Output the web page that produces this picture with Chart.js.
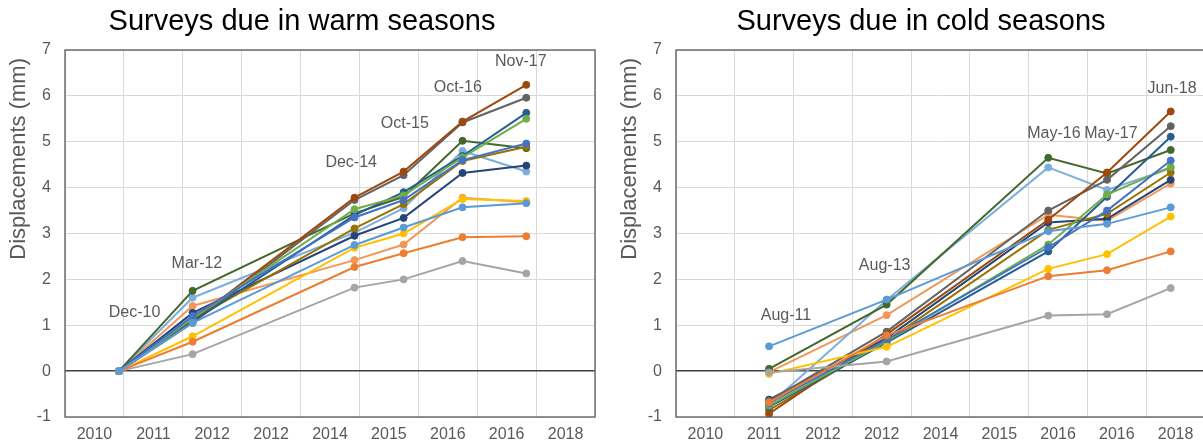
<!DOCTYPE html>
<html>
<head>
<meta charset="utf-8">
<script src="https://cdn.jsdelivr.net/npm/chart.js@4/dist/chart.umd.min.js"></script>
<style>
  html, body { margin: 0; padding: 0; background: #fff; overflow: hidden; }
  #wrap { position: relative; width: 1203px; height: 446px; overflow: hidden; }
  #warm { position: absolute; left: 0; top: 0; }
  #cold { position: absolute; left: 601px; top: 0; }
</style>
</head>
<body>
<div id="wrap">
  <canvas id="warm" width="601" height="446"></canvas>
  <canvas id="cold" width="640" height="446"></canvas>
</div>
<script>
// Survey campaigns (month-year) for each panel
const warmDates = ['Dec-10', 'Mar-12', 'Dec-14', 'Oct-15', 'Oct-16', 'Nov-17'];
const coldDates = ['Aug-11', 'Aug-13', 'May-16', 'May-17', 'Jun-18'];

// Year labels shown under the horizontal axis
const yearLabels = ['2010', '2011', '2012', '2012', '2014', '2015', '2016', '2016', '2018'];

// Series colours, one per monitoring point
const seriesColors = ['#5B9BD5', '#ED7D31', '#A5A5A5', '#FFC000', '#4472C4', '#70AD47', '#255E91',
                      '#9E480E', '#636363', '#997300', '#264478', '#43682B', '#7CAFDD', '#F1975A'];

// Displacements (mm), warm-season surveys
const warm01 = [0, 1.05, 2.75, 3.13, 3.57, 3.66];
const warm02 = [0, 0.64, 2.27, 2.57, 2.92, 2.94];
const warm03 = [0, 0.37, 1.82, 2.00, 2.40, 2.13];
const warm04 = [0, 0.76, 2.69, 3.00, 3.75, 3.71];
const warm05 = [0, 1.20, 3.35, 3.73, 4.60, 4.96];
const warm06 = [0, 1.15, 3.53, 3.83, 4.66, 5.50];
const warm07 = [0, 1.08, 3.40, 3.90, 4.69, 5.63];
const warm08 = [0, 1.10, 3.78, 4.35, 5.44, 6.24];
const warm09 = [0, 1.05, 3.73, 4.27, 5.42, 5.96];
const warm10 = [0, 1.13, 3.11, 3.64, 4.58, 4.89];
const warm11 = [0, 1.27, 2.95, 3.34, 4.32, 4.48];
const warm12 = [0, 1.75, 3.44, 3.80, 5.02, 4.86];
const warm13 = [0, 1.60, 3.02, 3.55, 4.80, 4.35];
const warm14 = [0, 1.42, 2.42, 2.76, 3.78, 3.68];

// Displacements (mm), cold-season surveys
const cold01 = [0.54, 1.56, 3.05, 3.21, 3.57];
const cold02 = [-0.68, 0.78, 2.07, 2.20, 2.61];
const cold03 = [-0.03, 0.21, 1.21, 1.24, 1.81];
const cold04 = [-0.06, 0.53, 2.23, 2.55, 3.37];
const cold05 = [-0.70, 0.68, 2.70, 3.50, 4.59];
const cold06 = [-0.75, 0.65, 2.76, 3.85, 4.45];
const cold07 = [-0.78, 0.62, 2.61, 3.80, 5.11];
const cold08 = [-0.93, 0.80, 3.30, 4.33, 5.66];
const cold09 = [-0.65, 0.86, 3.50, 4.17, 5.34];
const cold10 = [-0.85, 0.66, 3.08, 3.43, 4.33];
const cold11 = [-0.62, 0.72, 3.24, 3.32, 4.17];
const cold12 = [0.05, 1.45, 4.65, 4.31, 4.82];
const cold13 = [-0.74, 1.55, 4.44, 3.95, 4.42];
const cold14 = [-0.02, 1.22, 3.41, 3.28, 4.09];

// Campaign callouts: text with its anchor in axis units (year, mm)
const warmCalloutText = ['Dec-10', 'Mar-12', 'Dec-14', 'Oct-15', 'Oct-16', 'Nov-17'];
const warmCalloutYear = [2011.18, 2012.24, 2014.86, 2015.77, 2016.67, 2017.74];
const warmCalloutMm   = [1.27, 2.34, 4.54, 5.40, 6.18, 6.75];
const coldCalloutText = ['Aug-11', 'Aug-13', 'May-16', 'May-17', 'Jun-18'];
const coldCalloutYear = [2011.87, 2013.55, 2016.43, 2017.40, 2018.44];
const coldCalloutMm   = [1.21, 2.30, 5.18, 5.18, 6.16];

const MONTHS = ['Jan','Feb','Mar','Apr','May','Jun','Jul','Aug','Sep','Oct','Nov','Dec'];
function toYear(label) {
  const [m, yy] = label.split('-');
  return 2000 + Number(yy) + MONTHS.indexOf(m) / 12;
}

const FONT = "'Liberation Sans', Arial, sans-serif";
const TEXT_GREY = '#595959';

function buildDatasets(dates, seriesList) {
  const xs = dates.map(toYear);
  return seriesList.map((vals, i) => ({
    label: 'Point ' + (i + 1),
    data: vals.map((v, j) => ({ x: xs[j], y: v })),
    borderColor: seriesColors[i],
    backgroundColor: seriesColors[i],
    borderWidth: 2,
    pointRadius: 3.5,
    pointHoverRadius: 3.5,
    pointBorderWidth: 1,
    tension: 0
  }));
}

// Draws the frame of the plot area, the vertical axis caption and the campaign callouts
const decorations = {
  id: 'decorations',
  afterDatasetsDraw(chart, args, opts) {
    const { ctx, chartArea: a, scales } = chart;
    ctx.save();
    ctx.strokeStyle = TEXT_GREY;
    ctx.lineWidth = 1.3;
    ctx.strokeRect(a.left, a.top, a.right - a.left, a.bottom - a.top);

    ctx.fillStyle = TEXT_GREY;
    ctx.font = '16px ' + FONT;
    ctx.textAlign = 'center';
    ctx.textBaseline = 'middle';
    opts.text.forEach((t, i) => {
      ctx.fillText(t, scales.x.getPixelForValue(opts.year[i]), scales.y.getPixelForValue(opts.mm[i]));
    });

    ctx.font = '22px ' + FONT;
    ctx.translate(a.left - opts.captionGap, a.top + 8);
    ctx.rotate(-Math.PI / 2);
    ctx.textAlign = 'right';
    ctx.fillText('Displacements (mm)', 0, 0);
    ctx.restore();
  }
};

function makeChart(id, title, dates, seriesList, callouts, leftPad, axisWidth, rightPad, captionGap) {
  const tickValues = yearLabels.map((_, i) => 2010.5 + i);
  return new Chart(document.getElementById(id), {
    type: 'line',
    data: { datasets: buildDatasets(dates, seriesList) },
    options: {
      responsive: false,
      animation: false,
      layout: { padding: { left: leftPad, right: rightPad, top: 0, bottom: 0 } },
      plugins: {
        legend: { display: false },
        tooltip: { enabled: false },
        title: {
          display: true,
          text: title,
          color: '#000',
          font: { family: FONT, size: 29, weight: 'normal', lineHeight: 1.2 },
          padding: { top: 5, bottom: 10.2 }
        },
        decorations: { text: callouts[0], year: callouts[1], mm: callouts[2], captionGap: captionGap }
      },
      scales: {
        x: {
          type: 'linear',
          min: 2010,
          max: 2019,
          afterBuildTicks: s => { s.ticks = tickValues.map(v => ({ value: v })); },
          afterFit: s => { s.height = 29; },
          ticks: {
            autoSkip: false,
            maxRotation: 0,
            padding: 8,
            color: TEXT_GREY,
            font: { family: FONT, size: 16 },
            callback: (v, i) => yearLabels[i]
          },
          grid: { offset: true, color: '#d9d9d9', lineWidth: 1, drawTicks: false },
          border: { display: false }
        },
        y: {
          min: -1,
          max: 7,
          afterFit: s => { s.width = axisWidth; },
          ticks: {
            stepSize: 1,
            padding: 14,
            color: TEXT_GREY,
            font: { family: FONT, size: 16 }
          },
          grid: {
            drawTicks: false,
            color: c => (c.tick && c.tick.value === 0 ? '#404040' : '#d9d9d9'),
            lineWidth: c => (c.tick && c.tick.value === 0 ? 1.5 : 1)
          },
          border: { display: false }
        }
      }
    },
    plugins: [decorations]
  });
}

makeChart('warm', 'Surveys due in warm seasons', warmDates,
  [warm01, warm02, warm03, warm04, warm05, warm06, warm07, warm08, warm09, warm10, warm11, warm12, warm13, warm14],
  [warmCalloutText, warmCalloutYear, warmCalloutMm], 9, 56, 6, 46);

makeChart('cold', 'Surveys due in cold seasons', coldDates,
  [cold01, cold02, cold03, cold04, cold05, cold06, cold07, cold08, cold09, cold10, cold11, cold12, cold13, cold14],
  [coldCalloutText, coldCalloutYear, coldCalloutMm], 36, 39, 36, 46);
</script>
</body>
</html>
